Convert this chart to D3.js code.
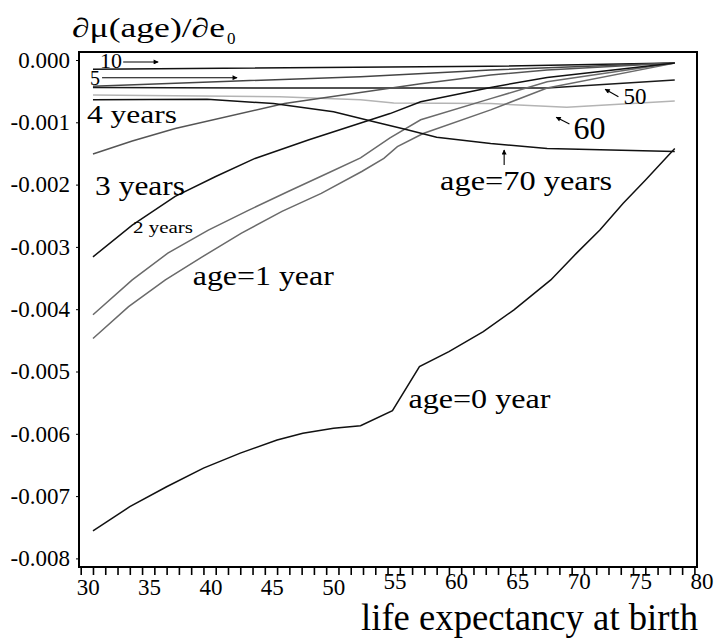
<!DOCTYPE html>
<html lang="en">
<head>
<meta charset="UTF-8">
<title>dmu/de0</title>
<style>
    body { margin: 0; background: #fff; }
    svg { display: block; }
</style>
</head>
<body>
<svg id="chart"></svg>
<script src="https://cdn.jsdelivr.net/npm/d3@7"></script>
<script>
// life expectancy at birth (x) and d mu(age)/d e0 (y), one pair of arrays per age
var age0E0  = [31.0, 34.0, 37.0, 40.0, 43.0, 46.0, 48.1, 50.6, 52.8, 55.4, 57.6, 60.0, 62.8, 65.3, 68.3, 70.4, 72.3, 74.2, 76.0, 78.4];
var age0Val = [-0.00756, -0.00717, -0.00685, -0.00655, -0.00631, -0.00610, -0.00599, -0.00591, -0.00587, -0.00563, -0.00492, -0.00468, -0.00436, -0.00401, -0.00353, -0.00310, -0.00273, -0.00230, -0.00193, -0.00142];

var age1E0  = [31.0, 33.9, 36.9, 39.9, 43.1, 46.4, 49.6, 52.9, 54.7, 55.8, 57.9, 63.4, 68.0, 78.4];
var age1Val = [-0.00447, -0.00396, -0.00353, -0.00316, -0.00278, -0.00243, -0.00214, -0.00179, -0.00158, -0.00139, -0.00118, -0.00080, -0.00045, -0.00005];

var age2E0  = [31.0, 34.2, 37.1, 40.4, 43.7, 46.9, 50.2, 52.8, 55.2, 57.7, 63.4, 68.0, 78.4];
var age2Val = [-0.00409, -0.00353, -0.00310, -0.00273, -0.00241, -0.00211, -0.00181, -0.00157, -0.00125, -0.00096, -0.00062, -0.00035, -0.00005];

var age3E0  = [31.0, 34.2, 37.7, 41.0, 44.2, 48.6, 55.2, 57.7, 63.4, 68.0, 78.4];
var age3Val = [-0.00316, -0.00265, -0.00219, -0.00187, -0.00158, -0.00128, -0.00086, -0.00067, -0.00044, -0.00028, -0.00005];

var age4E0  = [31.0, 34.2, 37.7, 46.6, 57.7, 63.4, 68.0, 78.4];
var age4Val = [-0.00151, -0.00130, -0.00110, -0.00070, -0.00038, -0.00024, -0.00016, -0.00005];

var age5E0  = [31.0, 42.2, 52.8, 63.4, 78.4];
var age5Val = [-0.00042, -0.00034, -0.00027, -0.00016, -0.00005];

var age10E0  = [31.0, 63.4, 78.4];
var age10Val = [-0.00015, -0.00010, -0.00005];

var age50E0  = [31.0, 46.2, 63.4, 68.0, 78.4];
var age50Val = [-0.00044, -0.00045, -0.00045, -0.00045, -0.00032];

var age60E0  = [31.0, 46.2, 52.8, 55.5, 63.4, 69.6, 78.4];
var age60Val = [-0.00056, -0.00059, -0.00064, -0.00069, -0.00070, -0.00076, -0.00066];

var age70E0  = [31.0, 40.3, 45.7, 50.6, 53.9, 56.6, 59.0, 63.4, 68.0, 78.4];
var age70Val = [-0.00064, -0.00063, -0.00070, -0.00083, -0.00099, -0.00112, -0.00124, -0.00134, -0.00142, -0.00147];

var yTicks = [0, -0.001, -0.002, -0.003, -0.004, -0.005, -0.006, -0.007, -0.008];
var xTicks = d3.range(30, 81, 1);

(function () {
    var width = 718, height = 639;
    var serif = "'Liberation Serif', 'Times New Roman', serif";
    var svg = d3.select("#chart")
        .attr("width", width).attr("height", height)
        .attr("font-family", serif);

    var x = d3.scaleLinear().domain([30, 80]).range([80.7, 694.4]);
    var y = d3.scaleLinear().domain([-0.008, 0]).range([558.4, 60]);

    var series = [
        {e0: age60E0, v: age60Val, color: "#b4b4b4"},
        {e0: age50E0, v: age50Val, color: "#1a1a1a"},
        {e0: age10E0, v: age10Val, color: "#111"},
        {e0: age5E0,  v: age5Val,  color: "#444"},
        {e0: age4E0,  v: age4Val,  color: "#555"},
        {e0: age2E0,  v: age2Val,  color: "#6a6a6a"},
        {e0: age1E0,  v: age1Val,  color: "#6a6a6a"},
        {e0: age3E0,  v: age3Val,  color: "#111"},
        {e0: age70E0, v: age70Val, color: "#111"},
        {e0: age0E0,  v: age0Val,  color: "#111"}
    ];

    var line = d3.line()
        .x(function (d) { return x(d[0]); })
        .y(function (d) { return y(d[1]); });

    svg.selectAll("path.series")
        .data(series)
        .enter()
        .append("path")
        .attr("class", "series")
        .attr("fill", "none")
        .attr("stroke", function (d) { return d.color; })
        .attr("stroke-width", 1.5)
        .attr("d", function (d) {
            return line(d.e0.map(function (e, i) { return [e, d.v[i]]; }));
        });

    // frame
    svg.append("rect")
        .attr("x", 79).attr("y", 52)
        .attr("width", 618).attr("height", 515)
        .attr("fill", "none").attr("stroke", "#000").attr("stroke-width", 2);

    // y axis
    var yAxis = svg.append("g")
        .attr("transform", "translate(79,0)")
        .call(d3.axisLeft(y).tickValues(yTicks).tickSize(3).tickPadding(6)
            .tickFormat(function (d) { return d === 0 ? "0.000" : "-" + d3.format(".3f")(-d); }));
    yAxis.attr("font-family", serif).attr("font-size", 23);
    yAxis.select(".domain").remove();

    // x axis
    var xAxis = svg.append("g")
        .attr("transform", "translate(0,567)")
        .call(d3.axisBottom(x).tickValues(xTicks).tickSize(8).tickPadding(4)
            .tickFormat(function (d) { return d % 5 === 0 ? d : ""; }));
    xAxis.attr("font-family", serif).attr("font-size", 23);
    xAxis.select(".domain").remove();
    xAxis.selectAll(".tick line").attr("stroke-width", 1.6);
    xAxis.selectAll("text")
        .attr("dx", 7)
        .attr("dy", function (d) { return d >= 55 ? "0.45em" : "0.71em"; });

    // titles
    svg.append("text").attr("x", 72).attr("y", 37)
        .attr("font-size", 27).attr("textLength", 153).attr("lengthAdjust", "spacingAndGlyphs")
        .text("\u2202\u03bc(age)/\u2202e");
    svg.append("text").attr("x", 227).attr("y", 44)
        .attr("font-size", 17).text("0");
    svg.append("text").attr("x", 361).attr("y", 630)
        .attr("font-size", 38).attr("textLength", 337).attr("lengthAdjust", "spacingAndGlyphs")
        .text("life expectancy at birth");

    // labels on the curves
    var labels = [
        {t: "10", e0: 31.58, v: -0.000128, fs: 20, w: 22},
        {t: "5", e0: 30.76, v: -0.000401, fs: 20, w: 10},
        {t: "4 years", e0: 30.51, v: -0.00101, fs: 26, w: 90},
        {t: "3 years", e0: 31.17, v: -0.00217, fs: 27, w: 90},
        {t: "2 years", e0: 34.26, v: -0.00278, fs: 17, w: 60},
        {t: "age=1 year", e0: 39.13, v: -0.00361, fs: 27, w: 141},
        {t: "age=0 year", e0: 56.70, v: -0.00558, fs: 27, w: 142},
        {t: "age=70 years", e0: 59.28, v: -0.00209, fs: 28, w: 172},
        {t: "50", e0: 74.22, v: -0.000706, fs: 23, w: 23},
        {t: "60", e0: 70.15, v: -0.00127, fs: 32, w: 32}
    ];
    svg.selectAll("text.lab")
        .data(labels)
        .enter()
        .append("text")
        .attr("class", "lab")
        .attr("x", function (d) { return x(d.e0); })
        .attr("y", function (d) { return y(d.v); })
        .attr("font-size", function (d) { return d.fs; })
        .attr("textLength", function (d) { return d.w; })
        .attr("lengthAdjust", "spacingAndGlyphs")
        .text(function (d) { return d.t; });

    // arrows
    svg.append("defs").append("marker")
        .attr("id", "head")
        .attr("viewBox", "0 0 10 10")
        .attr("refX", 9).attr("refY", 5)
        .attr("markerWidth", 7).attr("markerHeight", 5)
        .attr("markerUnits", "userSpaceOnUse")
        .attr("orient", "auto")
        .append("path").attr("d", "M0,0L10,5L0,10z").attr("fill", "#000");

    var arrows = [
        [33.46, -0.000032, 36.31, -0.000032],
        [31.74, -0.000284, 42.74, -0.000284],
        [73.81, -0.000589, 72.73, -0.000470],
        [69.82, -0.001027, 68.74, -0.000920],
        [64.50, -0.001685, 64.50, -0.001445]
    ];
    svg.selectAll("line.arrow")
        .data(arrows)
        .enter()
        .append("line")
        .attr("class", "arrow")
        .attr("x1", function (d) { return x(d[0]); })
        .attr("y1", function (d) { return y(d[1]); })
        .attr("x2", function (d) { return x(d[2]); })
        .attr("y2", function (d) { return y(d[3]); })
        .attr("stroke", "#000").attr("stroke-width", 1.1)
        .attr("marker-end", "url(#head)");
})();
</script>
</body>
</html>
